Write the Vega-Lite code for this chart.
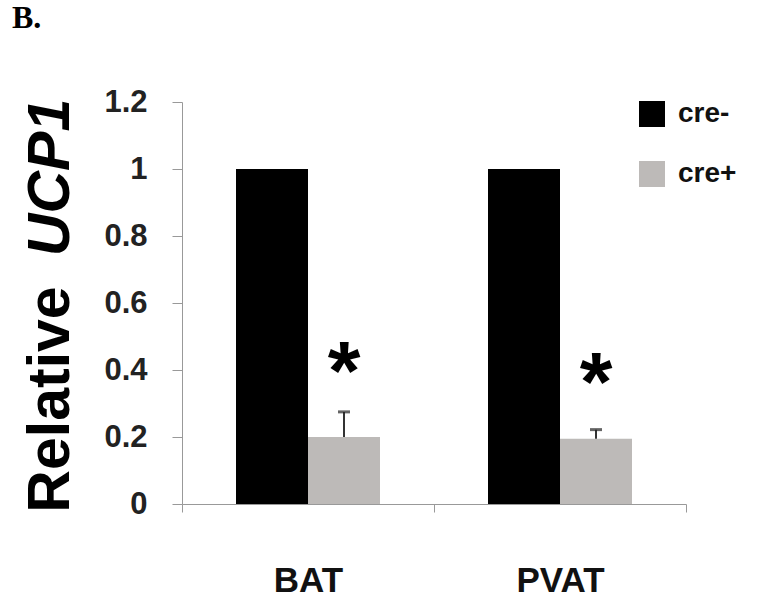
{
  "$schema": "https://vega.github.io/schema/vega-lite/v6.json",
  "width": 504,
  "height": 402,
  "autosize": {"type": "none"},
  "padding": {"left": 182, "top": 102, "right": 74, "bottom": 96},
  "background": "white",
  "title": {"text": "B.", "font": "Liberation Serif", "fontSize": 32, "fontWeight": "bold", "color": "black", "anchor": "start", "frame": "group", "dx": -170, "offset": 26, "baseline": "alphabetic"},
  "config": {"view": {"stroke": null}, "axis": {"grid": false}},
  "datasets": {
    "bars": [
      {"tissue": "BAT", "genotype": "cre-", "value": 1.0},
      {"tissue": "BAT", "genotype": "cre+", "value": 0.2},
      {"tissue": "PVAT", "genotype": "cre-", "value": 1.0},
      {"tissue": "PVAT", "genotype": "cre+", "value": 0.195}
    ],
    "errors": [
      {"tissue": "BAT", "genotype": "cre+", "value": 0.2, "hi": 0.275},
      {"tissue": "PVAT", "genotype": "cre+", "value": 0.195, "hi": 0.222}
    ],
    "stars": [
      {"tissue": "BAT", "genotype": "cre+", "pos": 0.424, "label": "*"},
      {"tissue": "PVAT", "genotype": "cre+", "pos": 0.39, "label": "*"}
    ]
  },
  "encoding": {
    "x": {
      "field": "tissue", "type": "nominal", "sort": ["BAT", "PVAT"],
      "scale": {"paddingInner": 0, "paddingOuter": 0},
      "axis": {"title": null, "labelAngle": 0, "labelFont": "Liberation Sans", "labelFontSize": 35, "labelFontWeight": "bold", "labelColor": "#111111", "labelPadding": 51, "tickBand": "extent", "tickSize": 8, "tickColor": "#999999", "domainColor": "#999999"}
    },
    "xOffset": {"field": "genotype", "type": "nominal", "sort": ["cre-", "cre+"], "scale": {"paddingInner": 0, "paddingOuter": 0.75}}
  },
  "layer": [
    {
      "data": {"name": "bars"},
      "mark": {"type": "bar"},
      "encoding": {
        "y": {
          "field": "value", "type": "quantitative",
          "scale": {"domain": [0, 1.2], "nice": false},
          "axis": {"values": [0, 0.2, 0.4, 0.6, 0.8, 1, 1.2], "format": "~g", "labelFont": "Liberation Sans", "labelFontSize": 31, "labelFontWeight": "bold", "labelColor": "#222222", "labelPadding": 25, "tickSize": 10, "tickColor": "#999999", "domainColor": "#999999",
            "title": "Relative", "titleFont": "Liberation Sans", "titleFontSize": 59, "titleFontWeight": "bold", "titleColor": "black", "titleAngle": -90, "titleAlign": "center", "titleBaseline": "alphabetic", "titleX": -114, "titleY": 297}
        },
        "color": {
          "field": "genotype", "type": "nominal",
          "scale": {"domain": ["cre-", "cre+"], "range": ["#000000", "#bdbab8"]},
          "legend": {"title": null, "orient": "none", "legendX": 456, "legendY": -2, "symbolType": "square", "symbolSize": 676, "symbolStrokeWidth": 0, "labelFont": "Liberation Sans", "labelFontSize": 28, "labelFontWeight": "bold", "labelColor": "#111111", "labelOffset": 12, "rowPadding": 32}
        }
      }
    },
    {
      "data": {"name": "errors"},
      "mark": {"type": "rule", "color": "#333333", "strokeWidth": 2},
      "encoding": {
        "y": {"field": "value", "type": "quantitative", "scale": {"domain": [0, 1.2], "nice": false}, "axis": null},
        "y2": {"field": "hi"}
      }
    },
    {
      "data": {"name": "errors"},
      "mark": {"type": "tick", "color": "#222222", "size": 12, "thickness": 3},
      "encoding": {
        "y": {"field": "hi", "type": "quantitative", "scale": {"domain": [0, 1.2], "nice": false}, "axis": null}
      }
    },
    {
      "data": {"name": "stars"},
      "mark": {"type": "text", "font": "Liberation Sans", "fontSize": 84, "fontWeight": "bold", "baseline": "alphabetic", "dy": 38, "color": "black"},
      "encoding": {
        "text": {"field": "label"},
        "y": {"field": "pos", "type": "quantitative", "scale": {"domain": [0, 1.2], "nice": false},
          "axis": {"orient": "left", "labels": false, "ticks": false, "domain": false, "title": "UCP1", "titleFont": "Liberation Sans", "titleFontSize": 59, "titleFontWeight": "bold", "titleFontStyle": "italic", "titleColor": "black", "titleAngle": -90, "titleAlign": "center", "titleBaseline": "alphabetic", "titleX": -114, "titleY": 75}
        }
      }
    }
  ],
  "resolve": {"scale": {"y": "independent"}}
}
